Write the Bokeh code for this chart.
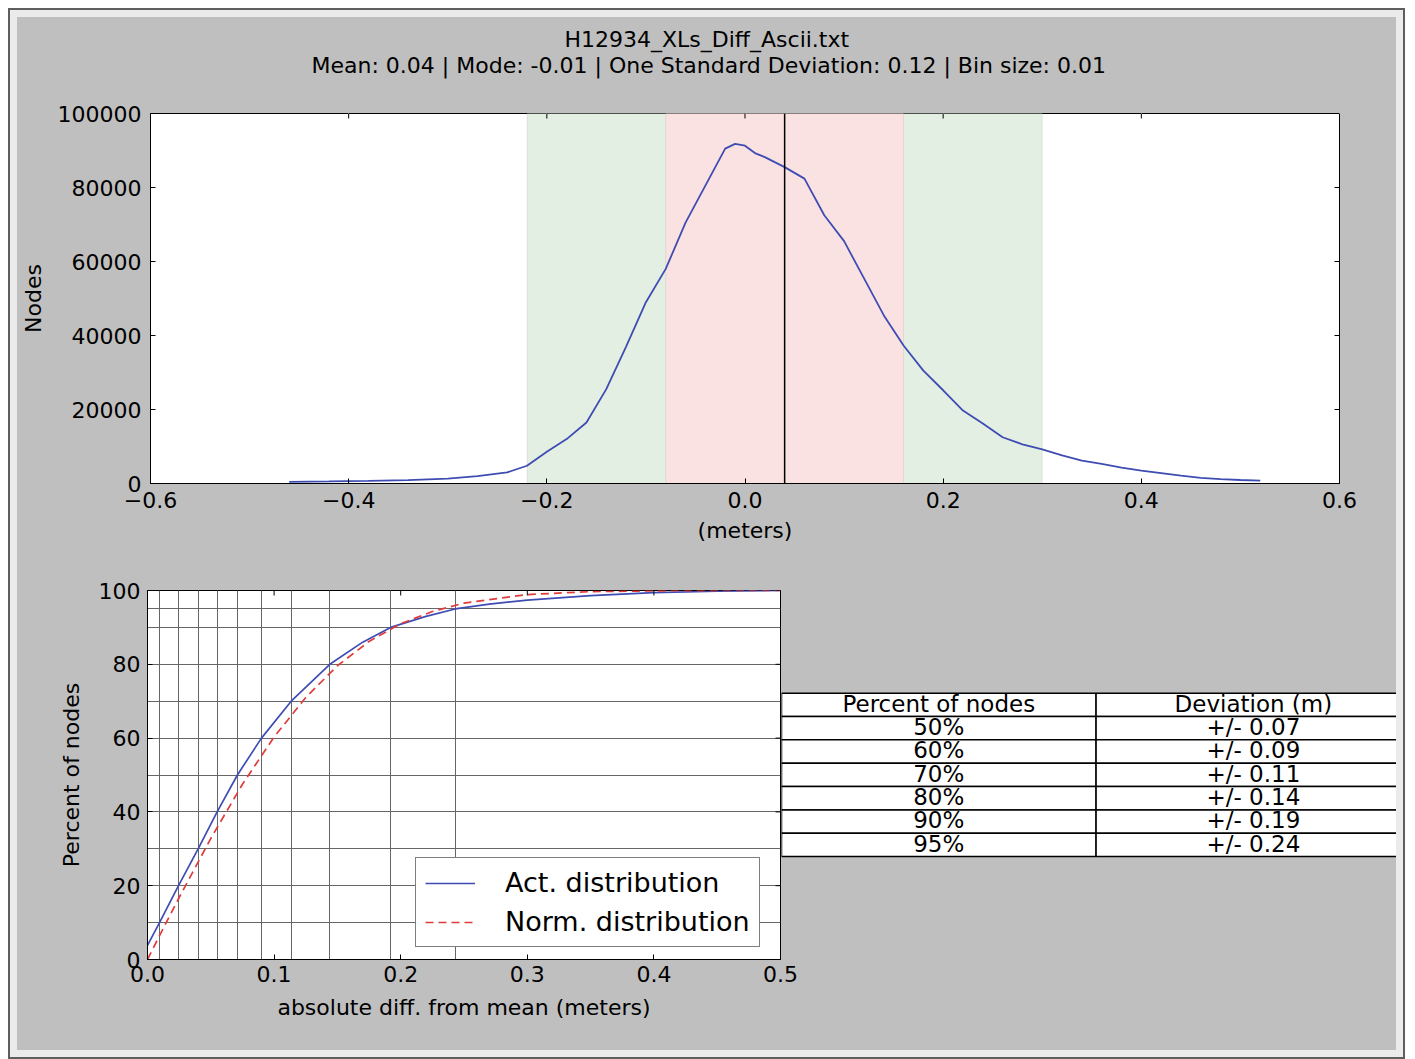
import math
from bokeh.plotting import figure
from bokeh.layouts import column, row
from bokeh.models import (Range1d, FixedTicker, Legend, LegendItem, Title, LinearAxis,
                          BoxAnnotation, Span, ColumnDataSource)
from bokeh.core.properties import value
from bokeh.embed import file_html
from bokeh.resources import INLINE

# ---------------- data ----------------
title_line1 = "H12934_XLs_Diff_Ascii.txt"
title_line2 = "Mean: 0.04 | Mode: -0.01 | One Standard Deviation: 0.12 | Bin size: 0.01"

hist_x = [-0.46, -0.42, -0.38, -0.34, -0.30, -0.27, -0.24, -0.22, -0.20, -0.18, -0.16, -0.14,
          -0.12, -0.10, -0.08, -0.06, -0.04, -0.02, -0.01, 0.00, 0.01, 0.02, 0.04, 0.06, 0.08,
          0.10, 0.12, 0.14, 0.16, 0.18, 0.20, 0.22, 0.24, 0.26, 0.28, 0.30, 0.32, 0.34, 0.36,
          0.38, 0.40, 0.42, 0.44, 0.46, 0.48, 0.50, 0.52]
hist_nodes = [450, 550, 700, 900, 1300, 2000, 3000, 4800, 8600, 12000, 16500, 25500,
              37000, 49000, 58000, 70500, 80500, 90500, 91800, 91300, 89300, 88200, 85500, 82400, 72500,
              65500, 55500, 45500, 37300, 30500, 25200, 19700, 16200, 12500, 10600, 9200, 7600, 6200, 5300,
              4300, 3500, 2800, 2100, 1500, 1200, 950, 800]
mean_value = 0.04
band_one_sd = [-0.08, 0.16]
band_two_sd = [-0.22, 0.30]
hist_xticks = [-0.6, -0.4, -0.2, 0.0, 0.2, 0.4, 0.6]
hist_xtick_labels = ["\u22120.6", "\u22120.4", "\u22120.2", "0.0", "0.2", "0.4", "0.6"]
hist_yticks = [0, 20000, 40000, 60000, 80000, 100000]

cum_x_act = [0.0, 0.0095, 0.0245, 0.04, 0.055, 0.071, 0.09, 0.1135, 0.144, 0.17, 0.192, 0.22,
             0.243, 0.27, 0.30, 0.35, 0.40, 0.45, 0.50]
cum_pct_act = [3.8, 10, 20, 30, 40, 50, 60, 70, 80, 86, 90, 93, 95, 96.3, 97.4, 98.6, 99.4, 99.8, 100]
cum_x_norm = [0.0, 0.01, 0.025, 0.05, 0.075, 0.10, 0.125, 0.15, 0.175, 0.20, 0.225, 0.25, 0.30,
              0.35, 0.40, 0.45, 0.50]
cum_pct_norm = [0, 6.8, 16.8, 32.8, 47.5, 60.3, 71.0, 79.6, 86.2, 91.0, 94.3, 96.6, 98.9, 99.7,
                99.9, 100, 100]
grid_pct = [10, 20, 30, 40, 50, 60, 70, 80, 90, 95]
grid_dev = [0.0095, 0.0245, 0.04, 0.055, 0.071, 0.09, 0.1135, 0.144, 0.192, 0.243]
cum_xticks = [0.0, 0.1, 0.2, 0.3, 0.4, 0.5]
cum_xtick_labels = ["0.0", "0.1", "0.2", "0.3", "0.4", "0.5"]
cum_yticks = [0, 20, 40, 60, 80, 100]

table_header = ["Percent of nodes", "Deviation (m)"]
table_pct = ["50%", "60%", "70%", "80%", "90%", "95%"]
table_dev = ["+/- 0.07", "+/- 0.09", "+/- 0.11", "+/- 0.14", "+/- 0.19", "+/- 0.24"]

# ---------------- style ----------------
FONT = "DejaVu Sans"
BG = "#bfbfbf"
BLUE = "#3f4db3"
RED = "#e03c3c"
FS = "22px"


def style_axis(ax, ticks, overrides=None):
    ax.ticker = FixedTicker(ticks=ticks)
    ax.major_tick_in = 5
    ax.major_tick_out = 0
    ax.minor_tick_in = 0
    ax.minor_tick_out = 0
    ax.major_tick_line_color = "black"
    ax.axis_line_color = "black"
    ax.major_label_text_font = FONT
    ax.major_label_text_color = "black"
    ax.major_label_text_font_size = FS
    ax.axis_label_text_font = FONT
    ax.axis_label_text_font_style = "normal"
    ax.axis_label_text_color = "black"
    ax.axis_label_text_font_size = FS
    if overrides:
        ax.major_label_overrides = overrides


def inner_ticks(p, xticks, yticks):
    # inward tick marks on the top and right frame edges (outer half is clipped by the frame)
    p.scatter(xticks, [p.y_range.end] * len(xticks), marker="dash", size=10,
              angle=math.pi / 2, line_color="black", line_width=1)
    p.scatter([p.x_range.end] * len(yticks), yticks, marker="dash", size=10,
              line_color="black", line_width=1)


# ---------------- top: histogram ----------------
p1 = figure(width=1378, height=543, x_range=Range1d(-0.6, 0.6), y_range=Range1d(0, 100000),
            output_backend="svg", toolbar_location=None,
            min_border_left=130, min_border_right=56, min_border_top=96, min_border_bottom=77,
            background_fill_color="white", border_fill_color=BG,
            outline_line_color="black", outline_line_width=1)
p1.grid.visible = False
style_axis(p1.xaxis[0], hist_xticks, {t: l for t, l in zip(hist_xticks, hist_xtick_labels)})
style_axis(p1.yaxis[0], hist_yticks)
p1.xaxis[0].major_label_standoff = 8
p1.yaxis[0].major_label_standoff = 9
p1.xaxis[0].axis_label = "(meters)"
p1.xaxis[0].axis_label_standoff = 7
p1.yaxis[0].axis_label = "Nodes"
p1.yaxis[0].axis_label_standoff = 9
p1.yaxis[0].formatter.use_scientific = False

p1.add_layout(BoxAnnotation(left=band_two_sd[0], right=band_two_sd[1], fill_color="#e2efe2",
                            fill_alpha=1, line_color="#b8c4b8", line_width=1, level="underlay"))
p1.add_layout(BoxAnnotation(left=band_one_sd[0], right=band_one_sd[1], fill_color="#fbe2e2",
                            fill_alpha=1, line_color="#c8b4b4", line_width=1, level="underlay"))
p1.line(hist_x, hist_nodes, line_color=BLUE, line_width=1.8)
p1.add_layout(Span(location=mean_value, dimension="height", line_color="black", line_width=1.5))
inner_ticks(p1, hist_xticks, hist_yticks)

# invisible spacer between the frame and the two title lines
spacer = LinearAxis(ticker=FixedTicker(ticks=hist_xticks), major_tick_out=34, major_tick_in=0,
                    minor_tick_out=0, minor_tick_in=0, major_label_standoff=0,
                    major_label_text_font_size="1px", major_label_text_color=None,
                    axis_line_color=None, major_tick_line_color=BG, minor_tick_line_color=None)
p1.add_layout(spacer, "above")
# title lines (closest to the frame added first)
p1.add_layout(Title(text=title_line2, align="left", offset=161, vertical_align="top",
                    standoff=0, text_font=FONT, text_font_size=FS,
                    text_font_style="normal", text_color="black"), "above")
p1.add_layout(Title(text=title_line1, align="left", offset=414, vertical_align="bottom",
                    standoff=2, text_font=FONT, text_font_size=FS,
                    text_font_style="normal", text_color="black"), "above")

# ---------------- bottom-left: cumulative ----------------
p2 = figure(width=784, height=490, x_range=Range1d(0, 0.5), y_range=Range1d(0, 100),
            output_backend="svg", toolbar_location=None,
            min_border_left=130, min_border_right=21, min_border_top=30, min_border_bottom=91,
            background_fill_color="white", border_fill_color=BG,
            outline_line_color="black", outline_line_width=1)
style_axis(p2.xaxis[0], cum_xticks, {t: l for t, l in zip(cum_xticks, cum_xtick_labels)})
style_axis(p2.yaxis[0], cum_yticks)
p2.xaxis[0].major_label_standoff = 6
p2.yaxis[0].major_label_standoff = 7
p2.xaxis[0].axis_label = "absolute diff. from mean (meters)"
p2.xaxis[0].axis_label_standoff = 10
p2.yaxis[0].axis_label = "Percent of nodes"
p2.yaxis[0].axis_label_standoff = 12

p2.xgrid.ticker = FixedTicker(ticks=grid_dev)
p2.ygrid.ticker = FixedTicker(ticks=grid_pct)
for g in (p2.xgrid[0], p2.ygrid[0]):
    g.grid_line_color = "#666666"
    g.grid_line_alpha = 1
    g.grid_line_width = 1

r_act = p2.line(cum_x_act, cum_pct_act, line_color=BLUE, line_width=1.7)
r_norm = p2.line(cum_x_norm, cum_pct_norm, line_color=RED, line_width=1.7, line_dash="8 5")
inner_ticks(p2, cum_xticks, cum_yticks)
legend = Legend(items=[LegendItem(label="Act. distribution", renderers=[r_act]),
                       LegendItem(label="Norm. distribution", renderers=[r_norm])],
                location=(268, 12), label_text_font=FONT, label_text_font_size="27px",
                label_text_color="black", glyph_width=50, glyph_height=30, label_height=30,
                label_standoff=30, padding=9, spacing=8, margin=0,
                border_line_color="black", border_line_width=1.2,
                background_fill_color="white", background_fill_alpha=1)
p2.add_layout(legend)

# ---------------- bottom-right: table ----------------
n_rows = 1 + len(table_pct)
row_idx = list(range(n_rows))
col0_text = [table_header[0]] + table_pct
col1_text = [table_header[1]] + table_dev

# the frame of this figure is aligned with the frame of the cumulative plot (369 px tall);
# it overlaps the right border of the cumulative plot by 20 px (transparent canvas)
p3 = figure(width=615, height=490, x_range=Range1d(0, 1.955), y_range=Range1d(11.41, -4.40),
            output_backend="svg", toolbar_location=None, min_border=0,
            x_axis_location=None, y_axis_location=None,
            background_fill_color=None, border_fill_color=None, outline_line_color=None,
            styles={"margin-left": "-20px"})
p3.grid.visible = False
cells = ColumnDataSource(dict(
    left=[0] * n_rows + [1] * n_rows,
    right=[1] * n_rows + [2] * n_rows,
    top=row_idx + row_idx,
    bottom=[i + 1 for i in row_idx] * 2,
    x=[0.5] * n_rows + [1.5] * n_rows,
    y=[i + 0.45 for i in row_idx] * 2,
    text=col0_text + col1_text,
))
p3.quad(left="left", right="right", top="top", bottom="bottom", source=cells,
        fill_color="white", line_color="black", line_width=1.5)
p3.text(x="x", y="y", text="text", source=cells, text_font=value(FONT), text_font_size="23px",
        text_align="center", text_baseline="middle", text_color="black")

layout = column(p1, row(p2, p3),
                styles={"border": "7px solid #ebebeb", "outline": "2px solid #5e5e5e",
                        "margin": "10px 0 0 10px", "background-color": BG})

open("out.html", "w").write(file_html(layout, INLINE))
